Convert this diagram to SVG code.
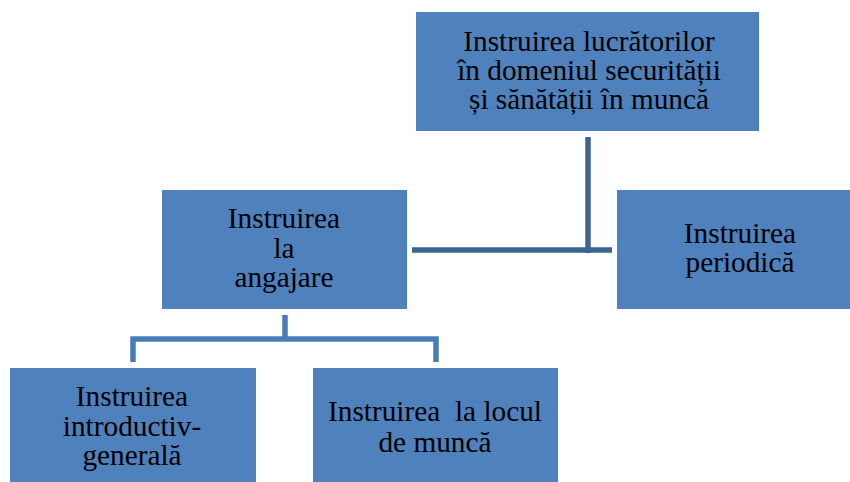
<svg xmlns="http://www.w3.org/2000/svg" width="850" height="482" viewBox="0 0 850 482">
<style>
.box{fill:#4F81BD;}
.t{font-family:"Liberation Serif","Times New Roman",serif;font-size:29.3px;fill:#000;text-anchor:middle;}
.c1{stroke:#3D6594;stroke-width:5.5;fill:none;}
.c2{stroke:#4A7CB8;stroke-width:5.5;fill:none;}
</style>
<rect width="850" height="482" fill="#fff"/>
<g id="connectors">
<line class="c1" x1="588" y1="137" x2="588" y2="253"/>
<line class="c1" x1="412" y1="250" x2="612" y2="250"/>
<polyline class="c2" points="285,315 285,339"/>
<polyline class="c2" points="133,362 133,339 436,339 436,362"/>
</g>
<g id="top">
<rect class="box" x="416" y="12" width="343" height="119"/>
<text class="t" x="589" y="51">Instruirea lucrătorilor</text>
<text class="t" x="589" y="80">în domeniul securității</text>
<text class="t" x="589" y="109">și sănătății în muncă</text>
</g>
<g id="angajare">
<rect class="box" x="162" y="190" width="245" height="119"/>
<text class="t" x="284" y="228">Instruirea</text>
<text class="t" x="284" y="258">la</text>
<text class="t" x="284" y="287">angajare</text>
</g>
<g id="periodica">
<rect class="box" x="617" y="190" width="233" height="119"/>
<text class="t" x="740" y="243">Instruirea</text>
<text class="t" x="740" y="272">periodică</text>
</g>
<g id="introductiv">
<rect class="box" x="10" y="368" width="246" height="114"/>
<text class="t" x="132" y="406">Instruirea</text>
<text class="t" x="132" y="436">introductiv-</text>
<text class="t" x="132" y="465">generală</text>
</g>
<g id="locul">
<rect class="box" x="313" y="368" width="245" height="114"/>
<text class="t" x="435" y="421" xml:space="preserve">Instruirea  la locul</text>
<text class="t" x="435" y="452">de muncă</text>
</g>
</svg>
